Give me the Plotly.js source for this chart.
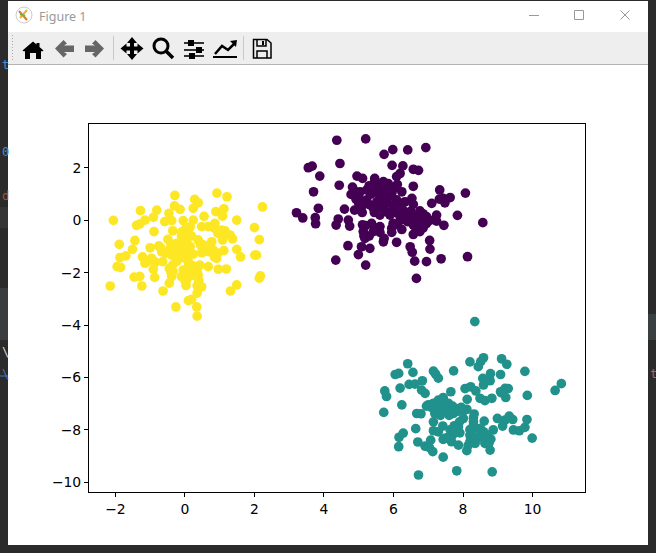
<!DOCTYPE html>
<html><head><meta charset="utf-8">
<script src="https://cdn.plot.ly/plotly-3.0.1.min.js"></script>
<style>html,body{margin:0;padding:0;background:#2b2b2b;overflow:hidden}#c{width:656px;height:553px}</style>
</head><body><div id="c"></div>
<script>
const purpleX=[4.37,5.20,5.73,5.98,6.41,6.93,4.46,3.55,3.66,3.88,5.96,6.27,6.57,6.72,6.19,6.09,4.95,5.11,5.46,5.71,4.44,6.57,4.82,3.70,6.11,5.30,5.56,5.80,7.33,8.07,4.78,5.04,5.23,5.47,5.71,5.95,6.24,7.63,7.43,7.32,7.48,6.53,4.92,5.23,5.52,5.80,6.09,6.33,7.10,6.57,4.59,3.84,3.21,3.39,4.88,5.08,5.42,5.71,5.99,6.28,6.76,7.24,7.84,3.75,4.41,4.70,3.76,4.35,4.74,5.11,5.61,5.90,6.19,6.43,6.67,6.95,7.24,7.45,8.57,5.37,5.61,5.99,6.24,6.57,6.76,6.95,6.57,6.76,5.13,5.42,5.61,5.95,5.18,5.71,6.09,7.04,4.69,5.08,5.32,5.73,6.48,7.05,6.54,4.99,4.34,5.20,6.61,6.95,7.37,8.13,6.66,5.35,5.60,5.85,6.00,5.55,5.75,5.30,5.45,5.65,5.85,6.05,5.15,5.00,6.20,5.60,6.00,5.85,5.45,6.60,6.85,6.65,6.85,7.05,6.50,6.65,5.20,5.30,5.15,5.50,6.10,6.20,5.95,6.40,6.85,5.10,4.90,5.00];
const purpleY=[3.06,3.11,2.52,2.70,2.69,2.78,2.17,2.01,2.07,1.69,2.10,2.08,1.95,1.91,1.79,1.67,1.69,1.60,1.60,1.48,1.34,1.30,1.27,1.09,1.37,1.32,1.29,1.22,1.16,1.04,0.99,1.09,1.16,1.09,1.03,1.03,1.09,0.87,0.84,0.81,0.67,0.84,0.81,0.78,0.71,0.78,0.78,0.71,0.65,0.61,0.43,0.46,0.29,0.09,0.39,0.52,0.46,0.46,0.46,0.39,0.36,0.20,0.19,0.10,0.05,0.01,-0.13,-0.18,-0.22,-0.17,0.20,0.20,0.14,0.14,0.14,0.14,-0.03,-0.19,-0.09,-0.12,-0.24,-0.12,-0.35,-0.18,-0.12,-0.12,-0.54,-0.43,-0.43,-0.43,-0.46,-0.46,-0.69,-0.82,-0.84,-0.77,-0.97,-1.01,-1.07,-0.69,-1.01,-1.10,-1.22,-1.31,-1.52,-1.71,-1.56,-1.58,-1.47,-1.39,-2.22,1.00,0.85,0.90,0.60,0.55,0.60,0.60,0.30,0.30,0.30,0.30,0.70,0.90,0.55,1.20,1.20,1.40,1.45,0.10,0.00,-0.10,-0.30,0.00,0.35,-0.30,-0.20,-0.60,-0.60,-0.30,-0.15,0.00,-0.30,-0.05,0.25,0.30,1.10,0.65];
const tealX=[8.34,8.59,8.51,8.44,9.11,9.26,8.20,6.41,6.56,6.15,6.05,7.15,7.29,7.21,7.73,9.78,9.08,8.79,8.57,8.78,8.59,6.45,6.83,6.62,6.19,6.81,6.91,5.75,5.80,7.65,8.06,8.22,8.37,9.21,9.30,9.08,9.23,9.85,10.83,10.65,8.12,8.49,8.63,8.83,9.11,7.43,7.29,6.24,5.72,6.95,7.15,7.34,7.58,7.82,8.11,6.67,6.79,7.19,7.48,7.72,8.01,8.32,8.30,8.61,8.99,9.21,9.33,9.43,9.84,9.14,9.45,9.62,9.78,6.64,7.15,7.42,7.15,7.29,7.63,7.87,7.91,8.30,8.59,8.87,6.28,6.16,8.20,8.80,9.99,6.15,6.70,7.07,6.91,7.03,7.13,7.43,7.67,7.87,8.20,8.35,8.63,8.11,8.78,7.43,7.82,8.84,6.72,7.48,8.49,7.45,7.60,7.40,7.55,7.25,7.10,7.00,7.70,7.95,7.85,7.35,7.60,8.30,8.30,8.20,8.35,8.15,7.70,7.80,7.55,8.50,8.70,8.75,8.50,7.90,7.75,8.00];
const tealY=[-3.87,-5.25,-5.40,-5.59,-5.29,-5.50,-5.41,-5.48,-5.81,-5.85,-5.89,-5.76,-6.03,-5.87,-5.75,-5.77,-5.89,-5.86,-6.04,-6.13,-6.29,-6.27,-6.13,-6.26,-6.41,-6.49,-6.61,-6.52,-6.73,-6.55,-6.43,-6.36,-6.52,-6.42,-6.43,-6.55,-6.77,-6.69,-6.24,-6.50,-6.84,-6.80,-6.89,-6.80,-6.59,-6.77,-6.87,-7.05,-7.34,-7.10,-6.99,-7.06,-6.99,-7.19,-7.22,-7.38,-7.39,-7.38,-7.31,-7.38,-7.57,-7.40,-7.70,-7.67,-7.57,-7.63,-7.48,-7.61,-7.61,-7.86,-8.01,-8.04,-7.91,-7.96,-7.70,-7.86,-8.04,-8.08,-8.01,-7.89,-8.12,-7.95,-8.08,-8.01,-8.13,-8.29,-8.21,-8.36,-8.32,-8.65,-8.47,-8.40,-8.63,-8.68,-8.84,-8.37,-8.46,-8.59,-8.46,-8.52,-8.52,-8.80,-8.78,-9.05,-9.57,-9.61,-9.73,-8.33,-8.14,-6.90,-7.10,-7.20,-7.20,-7.20,-7.15,-7.05,-7.10,-7.15,-7.30,-7.45,-7.45,-7.55,-7.85,-8.00,-8.30,-8.60,-8.20,-8.05,-8.30,-8.30,-8.20,-8.50,-7.95,-7.70,-7.85,-7.30];
const yellowX=[-0.29,0.92,1.21,0.28,0.38,2.23,-1.28,-0.81,0.24,-0.30,-0.14,0.89,1.12,1.08,0.55,-2.06,-0.46,-1.15,-0.91,-1.39,-1.30,1.49,-0.58,-0.38,-0.05,0.24,2.00,0.86,0.48,0.67,-0.89,-0.35,0.00,1.05,1.15,-1.44,-0.49,-0.10,0.19,1.08,1.37,1.30,2.14,-1.89,-1.51,-1.00,-0.75,-0.24,0.05,0.38,0.77,-0.43,-0.05,0.53,0.82,1.12,1.49,1.60,2.01,2.06,-1.87,-1.70,-1.22,-0.96,-0.67,-0.38,-0.14,0.24,0.48,0.91,-1.95,-1.85,-1.15,-0.64,-0.24,0.10,0.43,0.67,0.96,1.19,-0.91,-0.45,-0.34,-0.05,0.24,-1.46,-1.30,-0.87,-0.38,-0.10,0.38,2.17,2.14,-2.15,-1.24,-0.45,0.05,0.03,0.48,1.49,1.31,-0.63,0.35,0.10,0.19,-0.26,0.34,0.35,-0.10,0.10,0.00,-0.10,0.15,-0.15,0.05,0.60,0.70,0.45,-0.55,-0.25,-0.70,-0.40,0.95,0.85,0.10,0.25,0.00,0.10,0.20,0.35,-0.05,0.00,0.40,0.35,0.85,0.95,1.15,-0.40,-0.85,-1.05,-0.35,0.15];
const yellowY=[0.95,1.04,0.90,0.80,0.67,0.51,0.37,0.39,0.46,0.55,0.42,0.33,0.44,0.16,0.15,0.00,0.27,0.01,0.11,-0.19,-0.14,0.01,-0.05,-0.01,-0.01,0.01,-0.28,-0.12,-0.24,-0.24,-0.43,-0.40,-0.35,-0.37,-0.56,-0.77,-0.73,-0.60,-0.60,-0.75,-0.71,-0.56,-0.74,-0.92,-1.11,-1.05,-0.98,-0.88,-0.82,-0.75,-0.82,-1.07,-1.07,-0.94,-1.14,-1.16,-1.11,-1.40,-1.33,-1.33,-1.42,-1.36,-1.40,-1.45,-1.20,-1.33,-1.39,-1.29,-1.24,-1.45,-1.77,-1.80,-1.64,-1.58,-1.58,-1.58,-1.71,-1.77,-1.87,-1.86,-1.87,-1.84,-1.96,-1.90,-1.90,-2.17,-2.14,-2.18,-2.15,-2.15,-2.09,-2.12,-2.21,-2.51,-2.51,-2.40,-2.28,-2.49,-2.54,-2.47,-2.70,-2.70,-2.78,-3.07,-3.02,-3.31,-3.31,-3.66,-0.45,-0.50,-0.75,-0.95,-1.00,-1.15,-1.20,-1.00,-1.20,-0.95,-1.25,-1.25,-1.05,-0.90,-1.25,-1.40,-1.75,-1.75,-1.45,-1.95,-2.10,-1.90,-2.05,-2.30,-2.30,-2.50,-0.30,-0.50,-0.40,-2.00,-1.60,-1.55,-1.70,-0.25];
const xTicks=[-2,0,2,4,6,8,10];
const yTicks=[2,0,-2,-4,-6,-8,-10];
const figureTitle="Figure 1";

const W=656,H=553,L=89,R=585,T=124,B=492;
const px=x=>(x-L)/(R-L), py=y=>(B-y)/(B-T);
const P=s=>s.replace(/(-?[\d.]+) (-?[\d.]+)/g,(m,a,b)=>px(+a)+' '+py(+b));
const base={xref:'paper',yref:'paper',layer:'below'};
const rect=(x0,y0,x1,y1,fill)=>({...base,type:'rect',x0:px(x0),x1:px(x1),y0:py(y0),y1:py(y1),fillcolor:fill,line:{width:0}});
const fillPath=(d,c)=>({...base,type:'path',path:P(d),fillcolor:c,line:{width:0}});
const strokePath=(d,c,w)=>({...base,type:'path',path:P(d),line:{color:c,width:w}});
const shapes=[
  rect(0,207,8,228,'#353535'),rect(0,288,8,340,'#3a3d40'),rect(648,314,656,340,'#3a3f42'),
  rect(0,375.5,8,376.5,'#3a78c0'),
  rect(8,1,648,545,'#ffffff'),
  rect(8,32,648,64,'#eeeeee'),rect(8,64,648,65,'#b4b4b4'),
  rect(113,36,114,60,'#c8c8c8'),rect(243,36,244,60,'#c8c8c8'),
  // window buttons
  rect(529,15,539,16,'#999999'),
  strokePath('M574.5 10.5 L583.5 10.5 L583.5 19.5 L574.5 19.5 Z','#999999',1),
  strokePath('M620.5 10.5 L629.5 19.5 M629.5 10.5 L620.5 19.5','#999999',1),
  // title-bar icon
  {...base,type:'circle',x0:px(16),x1:px(32),y0:py(7),y1:py(23),fillcolor:'#ffffff',line:{color:'#cccccc',width:1}},
  strokePath('M19 11 L27 20','#e8702a',2),strokePath('M27 10 L20 18','#f0b030',2),strokePath('M20 14 L25 16','#6cb050',2),
  // home
  fillPath('M33 41.5 L36.5 44.5 L36.5 43 L39.5 43 L39.5 47 L43.5 50.5 L42 51.5 L41 51 L41 59 L36 59 L36 53 L30 53 L30 59 L25 59 L25 51 L24 51.5 L22.5 50.5 Z','#000000'),
  // back / forward
  fillPath('M55 48.5 L63.5 40 L67 43.5 L64 45.5 L74 45.5 L74 52 L64 52 L67 54 L63.5 57.5 Z','#666666'),
  fillPath('M104 48.5 L95.5 40 L92 43.5 L95 45.5 L85 45.5 L85 52 L95 52 L92 54 L95.5 57.5 Z','#666666'),
  // move
  fillPath('M132 37 L137 43 L134 43 L134 46.5 L137.5 46.5 L137.5 43.5 L143.5 48.5 L137.5 53.5 L137.5 50.5 L134 50.5 L134 54 L137 54 L132 60 L127 54 L130 54 L130 50.5 L126.5 50.5 L126.5 53.5 L120.5 48.5 L126.5 43.5 L126.5 46.5 L130 46.5 L130 43 L127 43 Z','#000000'),
  // zoom
  {...base,type:'circle',x0:px(154),x1:px(168),y0:py(39),y1:py(53),fillcolor:'rgba(0,0,0,0)',line:{color:'#000000',width:3}},
  strokePath('M166 51 L173 58','#000000',3.5),
  // sliders
  rect(184,42,204,44,'#333333'),rect(184,49,204,51,'#333333'),rect(184,55,204,57,'#333333'),
  rect(188,40,194,46,'#000000'),rect(196,47,202,53,'#000000'),rect(189,53,195,59,'#000000'),
  // chart
  rect(213,56,237,58,'#000000'),
  strokePath('M215 54 L222 46 L228 50 L235 43','#000000',2.5),
  fillPath('M230 41 L237 40 L236 47 Z','#000000'),
  // save
  strokePath('M253.5 39.5 L267 39.5 L271 43 L271 58 L253.5 58 Z','#000000',1.5),
  strokePath('M257 39.5 L257 46 L266 46 L266 39.5','#000000',1.5),
  strokePath('M257 58 L257 51 L267 51 L267 58','#000000',1.5),
  rect(262,41,264,45,'#000000'),
];
const dots=[];for(let y=35;y<=60;y+=3){dots.push(rect(12,y,13,y+1,'#aaaaaa'));}
const frag=(x,y,t,c)=>({xref:'paper',yref:'paper',x:px(x),y:py(y),xanchor:'left',yanchor:'middle',text:t,showarrow:false,font:{family:'"DejaVu Sans Mono",monospace',size:12,color:c}});
const annotations=[
  {xref:'paper',yref:'paper',x:px(37),y:py(16),xanchor:'left',yanchor:'middle',text:figureTitle,showarrow:false,font:{family:'"Noto Sans",sans-serif',size:12.5,color:'#999999'}},
  frag(0,65,'t','#4a90c8'),frag(0,152,'0','#4a90c8'),frag(0,196,'d','#b0522a'),
  frag(0,352,'\\','#cfd8dc'),frag(0,374,'\\','#3a78c0'),frag(648,374,'t','#d05555')
];
const mk=(x,y,c)=>({type:'scatter',mode:'markers',x,y,marker:{color:c,size:9.7,line:{width:0}},hoverinfo:'skip',showlegend:false,cliponaxis:false});
const ax=(rng,t)=>({range:rng,tickmode:'array',tickvals:t,ticktext:t.map(v=>(v<0?'\u2212':'')+Math.abs(v)),ticks:'outside',ticklen:4,tickwidth:1,tickcolor:'#000',showline:true,mirror:true,linecolor:'#000',linewidth:1,showgrid:false,zeroline:false,tickfont:{family:'"DejaVu Sans",sans-serif',size:13.9,color:'#000'},automargin:false});
Plotly.newPlot('c',[mk(purpleX,purpleY,'#440154'),mk(tealX,tealY,'#21918c'),mk(yellowX,yellowY,'#fde725')],{
  width:W,height:H,autosize:false,showlegend:false,
  margin:{l:L,r:W-R,t:T,b:H-B,pad:0},
  paper_bgcolor:'#2b2b2b',plot_bgcolor:'#ffffff',
  xaxis:ax([-2.76,11.51],xTicks),yaxis:ax([-10.38,3.68],yTicks),
  shapes:shapes.concat(dots),annotations
},{displayModeBar:false,staticPlot:true});
</script></body></html>
